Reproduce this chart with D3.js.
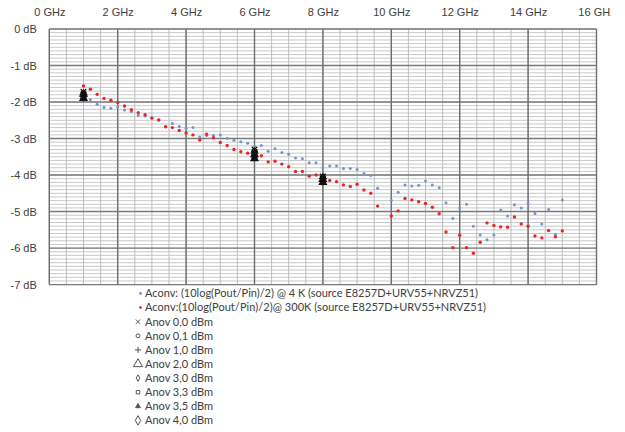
<!DOCTYPE html>
<html>
<head>
<meta charset="utf-8">
<script src="https://d3js.org/d3.v7.min.js"></script>
<style>
    body { margin: 0; background: #fff; }
    svg { font-family: Lato, "Open Sans", sans-serif; }
    .tick text { fill: #404040; font-size: 11px; }
    .legend text { fill: #404040; font-size: 11px; }
</style>
</head>
<body>
<script>
    // frequencies (GHz) of the Aconv points, 9.8 GHz was not measured
    var freqs = [1.0, 1.2, 1.4, 1.6, 1.8, 2.0, 2.2, 2.4, 2.6, 2.8,
        3.0, 3.2, 3.4, 3.6, 3.8, 4.0, 4.2, 4.4, 4.6, 4.8,
        5.0, 5.2, 5.4, 5.6, 5.8, 6.0, 6.2, 6.4, 6.6, 6.8,
        7.0, 7.2, 7.4, 7.6, 7.8, 8.0, 8.2, 8.4, 8.6, 8.8,
        9.0, 9.2, 9.4, 9.6, 10.0, 10.2, 10.4, 10.6, 10.8, 11.0,
        11.2, 11.4, 11.6, 11.8, 12.0, 12.2, 12.4, 12.6, 12.8, 13.0,
        13.2, 13.4, 13.6, 13.8, 14.0, 14.2, 14.4, 14.6, 14.8, 15.0];

    // Aconv @ 4 K (blue)
    var aconv4K = [-1.85, -1.94, -2.06, -2.15, -2.17, -2.13, -2.22, -2.26, -2.36, -2.38,
        -2.44, -2.50, -2.66, -2.59, -2.67, -2.72, -2.70, -2.96, -2.92, -2.91,
        -2.90, -2.99, -3.05, -3.09, -3.13, -3.21, -3.19, -3.35, -3.28, -3.38,
        -3.43, -3.53, -3.55, -3.66, -3.66, -3.80, -3.75, -3.75, -3.82, -3.82,
        -3.85, -3.96, -4.01, -4.36, -4.69, -4.47, -4.27, -4.30, -4.28, -4.16,
        -4.27, -4.35, -4.76, -5.19, -4.90, -4.80, -5.40, -5.64, -5.77, -5.64,
        -4.96, -5.12, -4.81, -4.90, -4.78, -5.05, -5.34, -4.94, -5.62, -4.68];

    // Aconv @ 300 K (red)
    var aconv300K = [-1.56, -1.65, -1.79, -1.90, -1.95, -2.01, -2.11, -2.21, -2.29, -2.35,
        -2.44, -2.49, -2.68, -2.70, -2.78, -2.85, -2.90, -3.04, -2.88, -2.98,
        -3.11, -3.19, -3.30, -3.36, -3.40, -3.46, -3.47, -3.64, -3.62, -3.70,
        -3.77, -3.90, -3.90, -4.03, -4.00, -4.12, -4.15, -4.18, -4.27, -4.31,
        -4.25, -4.41, -4.50, -4.85, -5.12, -4.98, -4.64, -4.68, -4.73, -4.78,
        -4.88, -5.06, -5.56, -5.99, -5.65, -5.99, -6.14, -5.84, -5.31, -5.38,
        -5.42, -5.43, -5.15, -5.34, -5.40, -5.67, -5.72, -5.52, -5.69, -5.53];

    // Anov series, measured at 1, 6 and 8 GHz
    var anovFreqs = [1, 6, 8];
    var anovNames = ["Anov 0,0 dBm", "Anov 0,1 dBm", "Anov 1,0 dBm", "Anov 2,0 dBm",
        "Anov 3,0 dBm", "Anov 3,3 dBm", "Anov 3,5 dBm", "Anov 4,0 dBm"];
    var anovValues = [
        [-1.72, -3.30, -4.04],
        [-1.76, -3.35, -4.07],
        [-1.80, -3.40, -4.10],
        [-1.78, -3.44, -4.12],
        [-1.84, -3.48, -4.15],
        [-1.87, -3.52, -4.18],
        [-1.90, -3.55, -4.20],
        [-1.82, -3.38, -4.08]
    ];

    var xTicks = [0, 2, 4, 6, 8, 10, 12, 14, 16];
    var yTicks = [0, -1, -2, -3, -4, -5, -6, -7];

    var aconvNames = ["Aconv: (10log(Pout/Pin)/2) @ 4 K (source E8257D+URV55+NRVZ51)",
        "Aconv:(10log(Pout/Pin)/2)@ 300K  (source E8257D+URV55+NRVZ51)"];

    var W = 625, H = 432;
    var plot = {left: 49.3, right: 596.5, top: 29, bottom: 284.6};

    var x = d3.scaleLinear().domain([0, 16]).range([plot.left, plot.right]);
    var y = d3.scaleLinear().domain([-7, 0]).range([plot.bottom, plot.top]);

    var svg = d3.select("body").append("svg")
        .attr("width", W)
        .attr("height", H);

    // the original picture is cut just after "16 GH"
    svg.append("clipPath").attr("id", "cut")
        .append("rect").attr("x", 0).attr("y", 0).attr("width", 611).attr("height", H);

    // minor grid
    var grid = svg.append("g");
    grid.selectAll(".hminor")
        .data(d3.range(-70, 1).map(function(d) { return d / 10; }))
        .enter().append("line")
        .attr("x1", plot.left).attr("x2", plot.right)
        .attr("y1", function(d) { return y(d); })
        .attr("y2", function(d) { return y(d); })
        .attr("stroke", "#c9c9c9")
        .attr("stroke-width", 1);
    grid.selectAll(".vminor")
        .data(d3.range(0, 33).map(function(d) { return d / 2; }))
        .enter().append("line")
        .attr("y1", plot.top).attr("y2", plot.bottom)
        .attr("x1", function(d) { return x(d); })
        .attr("x2", function(d) { return x(d); })
        .attr("stroke", "#bdbdbd")
        .attr("stroke-width", 1);

    // major grid
    grid.selectAll(".hmajor")
        .data(yTicks)
        .enter().append("line")
        .attr("x1", plot.left).attr("x2", plot.right)
        .attr("y1", function(d) { return y(d); })
        .attr("y2", function(d) { return y(d); })
        .attr("stroke", "#7a7a7a")
        .attr("stroke-width", 1.4);
    grid.selectAll(".vmajor")
        .data(xTicks)
        .enter().append("line")
        .attr("y1", plot.top).attr("y2", plot.bottom)
        .attr("x1", function(d) { return x(d); })
        .attr("x2", function(d) { return x(d); })
        .attr("stroke", "#6e6e6e")
        .attr("stroke-width", 1.4);

    // axes labels (top and left)
    var xAxis = svg.append("g")
        .attr("clip-path", "url(#cut)")
        .append("g")
        .attr("transform", "translate(0," + plot.top + ")")
        .call(d3.axisTop(x).tickValues(xTicks).tickSize(0).tickPadding(13.5)
            .tickFormat(function(d) { return d + " GHz"; }));
    xAxis.select(".domain").remove();

    var yAxis = svg.append("g")
        .attr("transform", "translate(" + plot.left + ",0)")
        .call(d3.axisLeft(y).tickValues(yTicks).tickSize(0).tickPadding(12.5)
            .tickFormat(function(d) { return d + " dB"; }));
    yAxis.select(".domain").remove();

    // data points
    var blue = "#7396cb", red = "#e8262a";
    svg.append("g").selectAll("circle")
        .data(freqs)
        .enter().append("circle")
        .attr("cx", function(d) { return x(d); })
        .attr("cy", function(d, i) { return y(aconv4K[i]); })
        .attr("r", 1.5)
        .attr("fill", blue);
    svg.append("g").selectAll("circle")
        .data(freqs)
        .enter().append("circle")
        .attr("cx", function(d) { return x(d); })
        .attr("cy", function(d, i) { return y(aconv300K[i]); })
        .attr("r", 1.7)
        .attr("fill", red);

    var symbols = [d3.symbolTimes || d3.symbolCross, d3.symbolCircle, d3.symbolPlus || d3.symbolCross,
        d3.symbolTriangle, d3.symbolDiamond, d3.symbolSquare, d3.symbolTriangle, d3.symbolDiamond];
    var legendSizes = [14, 12, 14, 36, 12, 12, 10, 26];
    var legendFilled = [false, false, false, false, false, false, true, false];

    anovNames.forEach(function(name, k) {
        svg.append("g").selectAll("path")
            .data(anovFreqs)
            .enter().append("path")
            .attr("transform", function(d, i) {
                return "translate(" + x(d) + "," + y(anovValues[k][i]) + ")";
            })
            .attr("d", d3.symbol().type(symbols[k]).size(22))
            .attr("fill", "#111")
            .attr("stroke", "#111")
            .attr("stroke-width", 1.2);
    });

    // legend
    var legend = svg.append("g").attr("class", "legend");
    var rowH = 14.1, firstY = 293.5;
    var aconvColors = [blue, red];
    aconvNames.forEach(function(name, i) {
        var cy = firstY + i * rowH;
        legend.append("circle")
            .attr("cx", 140.5).attr("cy", cy).attr("r", 1.4)
            .attr("fill", aconvColors[i]);
        legend.append("text")
            .attr("x", 145).attr("y", cy)
            .attr("dy", "0.35em")
            .attr("textLength", i === 0 ? 333 : 341)
            .text(name);
    });
    anovNames.forEach(function(name, k) {
        var cy = firstY + (k + 2) * rowH;
        legend.append("path")
            .attr("transform", "translate(138," + cy + ")")
            .attr("d", d3.symbol().type(symbols[k]).size(legendSizes[k]))
            .attr("fill", legendFilled[k] ? "#555" : "none")
            .attr("stroke", "#555")
            .attr("stroke-width", 1);
        legend.append("text")
            .attr("x", 145).attr("y", cy)
            .attr("dy", "0.35em")
            .text(name);
    });
</script>
</body>
</html>
